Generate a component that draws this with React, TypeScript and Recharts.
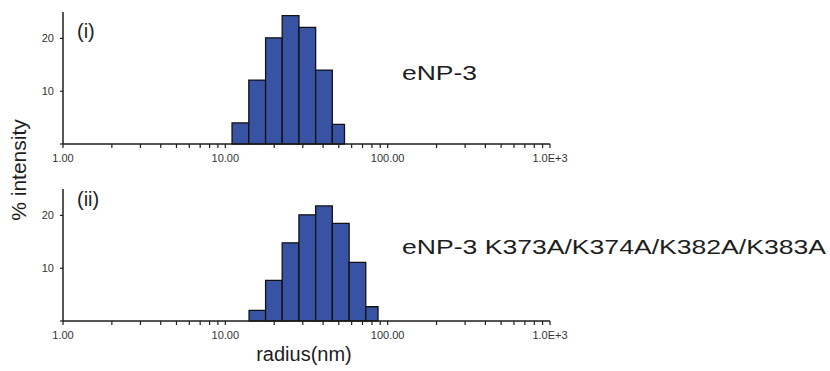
import React from 'react';
import { ComposedChart, XAxis, YAxis, ReferenceArea } from 'recharts';

// bin edges (nm) and % intensity per bin
const WT_EDGES = [11.0, 13.95, 17.7, 22.4, 28.4, 36.0, 45.6, 54.2];
const WT_HEIGHTS = [4.0, 12.1, 20.1, 24.3, 22.1, 14.0, 3.7];

const MUT_EDGES = [14.0, 17.7, 22.4, 28.4, 36.0, 45.6, 57.9, 73.3, 87.2];
const MUT_HEIGHTS = [2.0, 7.7, 14.8, 20.1, 21.8, 18.5, 11.1, 2.7];

const X_TICKS = [
  1, 2, 3, 4, 5, 6, 7, 8, 9,
  10, 20, 30, 40, 50, 60, 70, 80, 90,
  100, 200, 300, 400, 500, 600, 700, 800, 900,
  1000,
];
const X_LABELS: Record<number, string> = { 1: '1.00', 10: '10.00', 100: '100.00', 1000: '1.0E+3' };
const Y_TICKS = [0, 10, 20];

const FONT = '"Liberation Sans", Arial, Helvetica, sans-serif';
const BAR_FILL = '#3953a4';
const INK = '#1e1e1e';

const XTick = (props: any) => {
  const { x, y, payload } = props;
  const label = X_LABELS[payload.value];
  if (!label) return null;
  return (
    <text x={x} y={y} dy="0.71em" textAnchor="middle" fontSize={11} fill="#333" fontFamily={FONT}>
      {label}
    </text>
  );
};

const YTick = (props: any) => {
  const { x, y, payload } = props;
  if (payload.value === 0) return null;
  return (
    <text x={x} y={y} dy="0.36em" textAnchor="end" fontSize={11} fill="#333" fontFamily={FONT}>
      {payload.value}
    </text>
  );
};

const Panel: React.FC<{ edges: number[]; heights: number[]; top: number }> = ({ edges, heights, top }) => {
  const data = heights.map((h, i) => ({ x0: edges[i], x1: edges[i + 1], h }));
  return (
    <div style={{ position: 'absolute', left: 0, top }}>
      <ComposedChart width={830} height={180} data={data} margin={{ top: 12, right: 280, bottom: 6, left: 0 }}>
        <XAxis
          dataKey="x0"
          type="number"
          scale="log"
          domain={[1, 1000]}
          ticks={X_TICKS}
          interval={0}
          allowDataOverflow
          height={30}
          tickSize={4}
          tickMargin={6}
          axisLine={{ stroke: INK, strokeWidth: 1.5 }}
          tickLine={{ stroke: INK, strokeWidth: 1.2 }}
          tick={<XTick />}
        />
        <YAxis
          type="number"
          domain={[0, 25]}
          ticks={Y_TICKS}
          interval={0}
          allowDataOverflow
          width={63}
          tickSize={3}
          tickMargin={6}
          axisLine={{ stroke: INK, strokeWidth: 1.5 }}
          tickLine={{ stroke: INK, strokeWidth: 1.2 }}
          tick={<YTick />}
        />
        {data.map((d, i) => (
          <ReferenceArea
            key={i}
            x1={d.x0}
            x2={d.x1}
            y1={0}
            y2={d.h}
            fill={BAR_FILL}
            fillOpacity={1}
            stroke="#111"
            strokeWidth={1.3}
            strokeOpacity={1}
            ifOverflow="visible"
          />
        ))}
      </ComposedChart>
    </div>
  );
};

export default function App() {
  return (
    <div style={{ position: 'absolute', left: 0, top: 0, width: 830, height: 371, background: '#fff', fontFamily: FONT }}>
      <Panel edges={WT_EDGES} heights={WT_HEIGHTS} top={0} />
      <Panel edges={MUT_EDGES} heights={MUT_HEIGHTS} top={177} />
      <svg width={830} height={371} style={{ position: 'absolute', left: 0, top: 0, pointerEvents: 'none' }}>
        <g fontFamily={FONT} fill={INK}>
          <text x={77} y={38} fontSize={20}>(i)</text>
          <text x={77} y={206} fontSize={20}>(ii)</text>
          <text x={402} y={80} fontSize={21} textLength={75} lengthAdjust="spacingAndGlyphs">eNP-3</text>
          <text x={402} y={254} fontSize={21} textLength={424} lengthAdjust="spacingAndGlyphs">
            eNP-3 K373A/K374A/K382A/K383A
          </text>
          <text x={304} y={361} fontSize={20} textAnchor="middle">radius(nm)</text>
          <text transform="translate(26,170) rotate(-90)" fontSize={21} textAnchor="middle">% intensity</text>
        </g>
      </svg>
    </div>
  );
}
